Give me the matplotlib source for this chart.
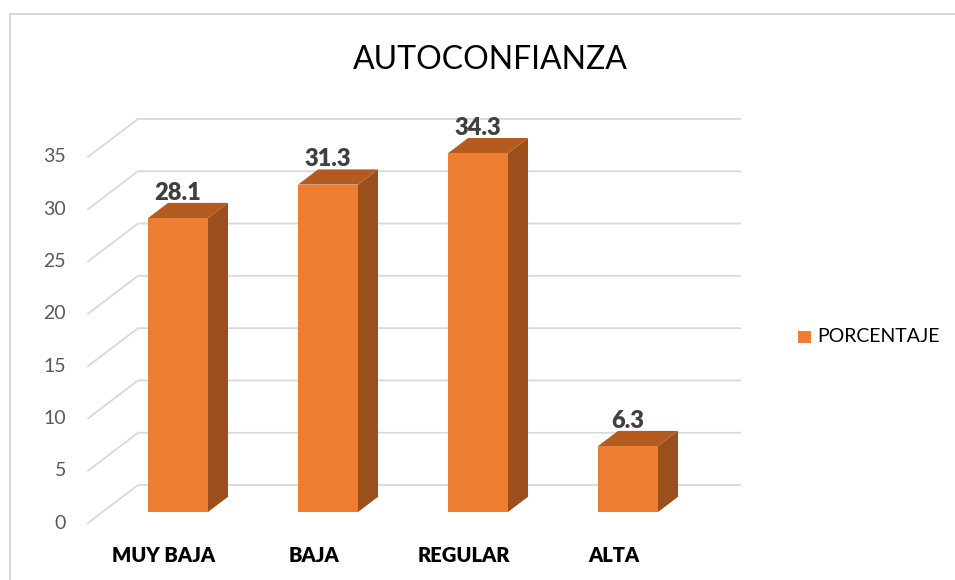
import matplotlib
matplotlib.use("Agg")
import matplotlib.pyplot as plt
from matplotlib.patches import Polygon, Rectangle
from matplotlib.lines import Line2D

# data
categorias = ["MUY BAJA", "BAJA", "REGULAR", "ALTA"]
porcentaje = [28.1, 31.3, 34.3, 6.3]
ticks_y = [0, 5, 10, 15, 20, 25, 30, 35]
titulo = "AUTOCONFIANZA"
serie = "PORCENTAJE"

plt.rcParams['font.family'] = ['Lato', 'DejaVu Sans']

W, H = 955, 580
fig = plt.figure(figsize=(W / 100, H / 100), dpi=100)

# axes placed in pixels: x px = 178 + 150*x, y px = 512 - 10.46*v
px_l, px_r, px_t, px_b = 80, 760, 100, 530
ax = fig.add_axes([px_l / W, (H - px_b) / H, (px_r - px_l) / W, (px_b - px_t) / H])
ax.set_xlim((px_l - 178) / 150, (px_r - 178) / 150)
ax.set_ylim((512 - px_b) / 10.46, (512 - px_t) / 10.46)
ax.axis("off")

# 3D offsets (depth 0 = front, 1 = back wall)
DX, DY = 50 / 150, 38 / 10.46
d_bar0, d_bar1 = 0.29, 0.69
ancho = 0.4

frente = "#ED7D31"
lado = "#9A4F1C"
tapa = "#B45B20"
grid = "#D9D9D9"

x_wall = -0.6  # front-left corner of the wall, bar-plane coords
x_fin = (740 - 178) / 150
for v in ticks_y:
    y0 = v - DY * d_bar0
    y1 = v + DY * (1 - d_bar0)
    xs = [x_wall, x_wall + DX, x_fin]
    ax.add_line(Line2D(xs, [y0, y1, y1], color=grid, lw=1.3, zorder=1))
    ax.text(x_wall - 22 / 150, y0, str(v), ha="right", va="center",
            fontsize=14, color="#595959")

dd = DX * (d_bar1 - d_bar0)
dv = DY * (d_bar1 - d_bar0)
for i, val in enumerate(porcentaje):
    x0 = i - ancho / 2
    x1 = i + ancho / 2
    ax.add_patch(Polygon([(x1, 0), (x1 + dd, dv), (x1 + dd, val + dv), (x1, val)],
                         closed=True, facecolor=lado, edgecolor="none", zorder=3))
    ax.add_patch(Polygon([(x0, val), (x1, val), (x1 + dd, val + dv), (x0 + dd, val + dv)],
                         closed=True, facecolor=tapa, edgecolor="none", zorder=3))
    ax.bar(i, val, width=ancho, color=frente, zorder=4)
    ax.text(i, val + dv - 0.1, f"{val:.1f}", ha="center", va="bottom",
            fontsize=17, fontweight="heavy", color="#404040")
    ax.text(i - DX * d_bar0, (512 - 555) / 10.46, categorias[i], ha="center",
            va="center", fontsize=14.5, fontweight="heavy", color="black")

fig.text(490 / W, 1 - 60 / H, titulo, ha="center", va="center", fontsize=23, color="black")

# legend
fig.patches.append(Rectangle((798 / W, 1 - 343 / H), 13 / W, 12 / H,
                             transform=fig.transFigure, facecolor=frente, edgecolor="none"))
fig.text(817 / W, 1 - 337 / H, serie, ha="left", va="center", fontsize=14, color="black")

# chart border
fig.add_artist(Line2D([10 / W, 10 / W, 955 / W], [0, 1 - 14 / H, 1 - 14 / H],
                      transform=fig.transFigure, color="#D9D9D9", lw=1.5))

fig.savefig("out.png", dpi=100, facecolor="white")
